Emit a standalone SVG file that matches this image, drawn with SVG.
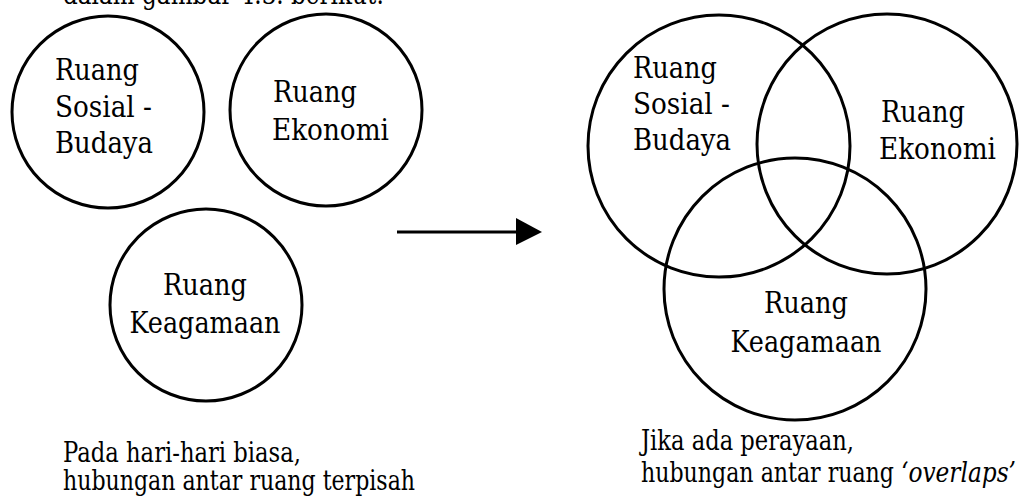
<svg xmlns="http://www.w3.org/2000/svg" width="1021" height="497" viewBox="0 0 1021 497">
<style>
.c{fill:none;stroke:#000;stroke-width:3}
text{font-family:'DejaVu Serif',serif;fill:#000}
.t{font-size:30px}
.b{font-size:27px}
.i{font-style:italic}
.m{text-anchor:middle}
</style>
<rect width="1021" height="497" fill="#fff"/>
<text class="b" x="63" y="4" textLength="321" lengthAdjust="spacingAndGlyphs">dalam gambar 4.3. berikut:</text>
<g id="left-sosial">
<circle class="c" cx="108" cy="112" r="96"/>
<text class="t" x="55" y="80" textLength="84" lengthAdjust="spacingAndGlyphs">Ruang</text>
<text class="t" x="55" y="117" textLength="97" lengthAdjust="spacingAndGlyphs">Sosial -</text>
<text class="t" x="55" y="153" textLength="98" lengthAdjust="spacingAndGlyphs">Budaya</text>
</g>
<g id="left-ekonomi">
<circle class="c" cx="326" cy="110" r="96"/>
<text class="t" x="273" y="102" textLength="84" lengthAdjust="spacingAndGlyphs">Ruang</text>
<text class="t" x="272" y="140" textLength="117" lengthAdjust="spacingAndGlyphs">Ekonomi</text>
</g>
<g id="left-keagamaan">
<circle class="c" cx="206" cy="305" r="96"/>
<text class="t m" x="205" y="295" textLength="84" lengthAdjust="spacingAndGlyphs">Ruang</text>
<text class="t m" x="205" y="333" textLength="151" lengthAdjust="spacingAndGlyphs">Keagamaan</text>
</g>
<g id="connectors">
<line x1="397" y1="232" x2="518" y2="232" stroke="#000" stroke-width="3"/>
<polygon points="516,218 542,232 516,245" fill="#000"/>
</g>
<g id="right-sosial">
<circle class="c" cx="719" cy="146" r="131"/>
<text class="t" x="633" y="78" textLength="84" lengthAdjust="spacingAndGlyphs">Ruang</text>
<text class="t" x="633" y="114" textLength="97" lengthAdjust="spacingAndGlyphs">Sosial -</text>
<text class="t" x="633" y="150" textLength="98" lengthAdjust="spacingAndGlyphs">Budaya</text>
</g>
<g id="right-ekonomi">
<circle class="c" cx="887" cy="144" r="130"/>
<text class="t" x="881" y="122" textLength="84" lengthAdjust="spacingAndGlyphs">Ruang</text>
<text class="t" x="879" y="159" textLength="117" lengthAdjust="spacingAndGlyphs">Ekonomi</text>
</g>
<g id="right-keagamaan">
<circle class="c" cx="795" cy="289" r="131"/>
<text class="t m" x="806" y="313" textLength="84" lengthAdjust="spacingAndGlyphs">Ruang</text>
<text class="t m" x="806" y="352" textLength="151" lengthAdjust="spacingAndGlyphs">Keagamaan</text>
</g>
<g id="captions">
<text class="b" x="63" y="462" textLength="238" lengthAdjust="spacingAndGlyphs">Pada hari-hari biasa,</text>
<text class="b" x="63" y="490" textLength="352" lengthAdjust="spacingAndGlyphs">hubungan antar ruang terpisah</text>
<text class="b" x="641" y="450" textLength="213" lengthAdjust="spacingAndGlyphs">Jika ada perayaan,</text>
<text class="b" x="641" y="482" textLength="253" lengthAdjust="spacingAndGlyphs">hubungan antar ruang</text>
<text class="b i" x="901" y="482" textLength="115" lengthAdjust="spacingAndGlyphs">‘overlaps’</text>
</g>
</svg>
